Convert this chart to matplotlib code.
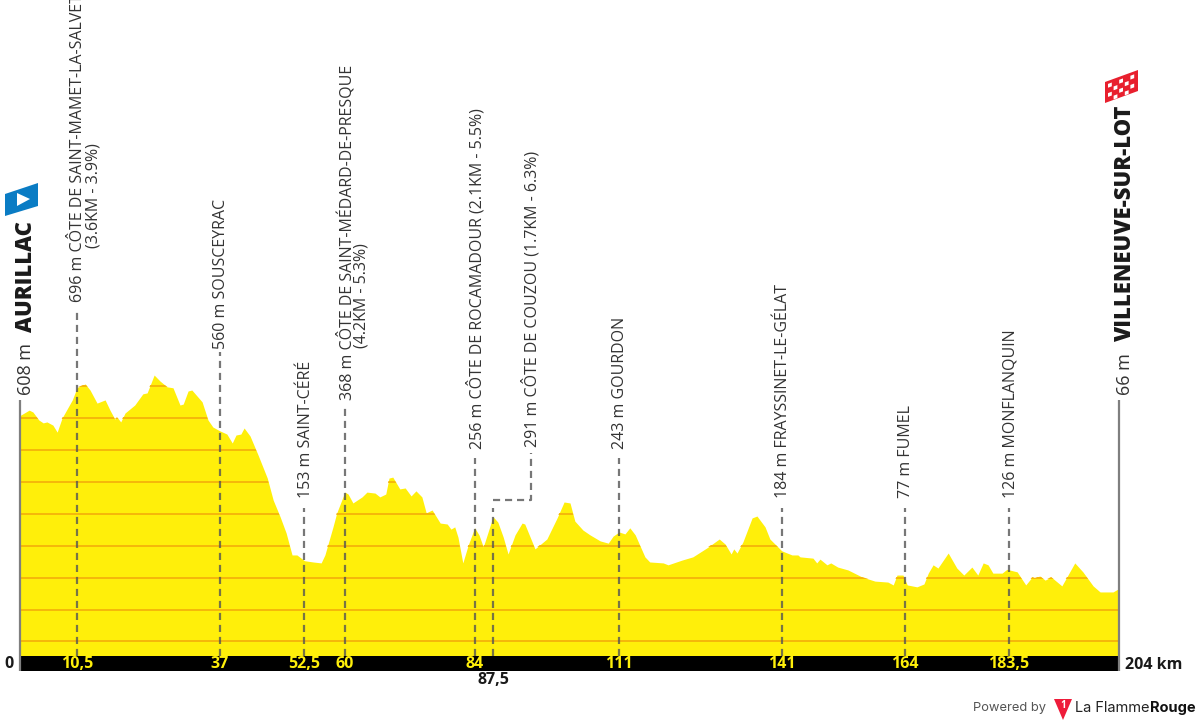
# -*- coding: utf-8 -*-
import matplotlib
matplotlib.use("Agg")
import matplotlib.pyplot as plt
from matplotlib.patches import Polygon

# Profile, km and elevation in metres
km = [0, 1.7, 2.4, 3.5, 4.3, 5.0, 6.1, 6.9, 7.8, 9.7, 10.6, 12.1, 13.0, 14.3, 15.8, 16.7, 17.6, 18.0, 18.7, 19.5,
      21.3, 22.8, 23.6, 24.9, 26.0, 27.3, 28.4, 29.7, 30.3, 31.2, 31.9, 33.8, 34.9, 35.8, 37.1, 38.4, 39.4, 40.1,
      41.0, 41.6, 42.7, 44.2, 45.9, 47.0, 48.3, 49.4, 50.5, 51.4, 52.8, 54.4, 55.9, 56.6, 58.1, 58.8, 60.3, 60.9,
      61.8, 63.5, 64.4, 65.9, 66.8, 67.9, 68.5, 69.2, 70.5, 71.5, 72.6, 73.5, 74.6, 75.4, 76.5, 78.0, 79.3, 80.0,
      80.7, 81.3, 82.2, 83.2, 84.4, 85.2, 86.0, 87.8, 88.7, 89.7, 90.6, 91.9, 93.2, 93.7, 95.6, 97.8, 99.7, 101.0,
      102.1, 103.0, 104.5, 105.8, 107.7, 109.2, 110.1, 111.2, 112.3, 113.2, 114.2, 116.0, 116.9, 119.4, 120.3,
      122.9, 124.9, 127.5, 129.8, 130.9, 132.0, 132.5, 133.1, 134.2, 135.9, 136.8, 138.3, 139.2, 141.4, 143.3,
      144.4, 144.8, 147.2, 147.9, 148.5, 149.8, 150.5, 151.8, 153.7, 156.3, 158.7, 161.1, 162.1, 162.8, 163.9,
      164.7, 166.5, 167.8, 168.6, 169.5, 170.4, 172.3, 173.9, 175.2, 176.7, 177.8, 178.8, 179.7, 180.6, 182.3,
      183.2, 185.1, 186.7, 187.9, 188.4, 189.3, 190.3, 191.4, 193.4, 195.8, 197.3, 199.2, 200.5, 202.9, 204]
elev = [608, 625, 619, 594, 585, 588, 578, 556, 600, 657, 696, 707, 688, 647, 657, 625, 597, 603, 588, 616,
        641, 676, 679, 735, 716, 698, 695, 641, 644, 685, 688, 651, 594, 572, 560, 550, 522, 547,
        550, 569, 544, 484, 412, 343, 290, 240, 171, 171, 153, 149, 146, 171, 259, 303, 368, 362,
        334, 353, 368, 365, 353, 362, 412, 415, 378, 381, 356, 372, 353, 303, 312, 271, 268, 252,
        259, 227, 146, 202, 256, 234, 196, 291, 274, 227, 174, 234, 271, 268, 190, 221, 287, 337,
        334, 277, 249, 234, 215, 208, 230, 243, 237, 256, 234, 165, 149, 146, 140,
        155, 165, 193, 221, 205, 174, 190, 177, 212, 287, 293, 259, 221, 184, 171,
        171, 165, 161, 146, 158, 140, 146, 133, 124, 102, 89, 86, 77, 108, 108,
        77, 71, 80, 114, 140, 130, 177, 130, 108, 133, 108, 146, 140, 114, 114,
        126, 118, 77, 102, 99, 105, 92, 102, 74, 146, 118, 74, 55, 55, 66]

# Climbs and towns
point_km = [10.6, 37.1, 52.8, 60.3, 84.4, 87.8, 111.2, 141.4, 164.3, 183.6]
point_ticks = ["10,5", "37", "52,5", "60", "84", "87,5", "111", "141", "164", "183,5"]
point_names = ["696 m CÔTE DE SAINT-MAMET-LA-SALVETAT", "560 m SOUSCEYRAC", "153 m SAINT-CÉRÉ",
               "368 m CÔTE DE SAINT-MÉDARD-DE-PRESQUE", "256 m CÔTE DE ROCAMADOUR (2.1KM - 5.5%)",
               "291 m CÔTE DE COUZOU (1.7KM - 6.3%)", "243 m GOURDON", "184 m FRAYSSINET-LE-GÉLAT",
               "77 m FUMEL", "126 m MONFLANQUIN"]
grid_levels = [-100, 0, 100, 200, 300, 400, 500, 600, 700]

YELLOW = "#FFEF0A"
ORANGE = "#F5B70A"
GRAY = "#7F7F7F"
TEXT = "#333333"
FONT = "Open Sans"

PX_PER_KM = 5.387
PX_PER_M = 0.319


def x_km(px):
    return (px - 20) / PX_PER_KM


def y_m(py):
    return (609.5 - py) / PX_PER_M


fig = plt.figure(figsize=(12, 7.25), dpi=100)
ax = fig.add_axes([0, 0, 1, 1])
ax.set_xlim(x_km(0), x_km(1200))
ax.set_ylim(y_m(725), y_m(0))
ax.axis("off")

base = y_m(656)
band = y_m(671)

# Profile and contour lines
poly = ax.fill_between(km, elev, base, color=YELLOW, lw=0, zorder=1)
for level in grid_levels:
    ln, = ax.plot([0, 204], [level, level], color=ORANGE, lw=1.4, zorder=2, solid_capstyle="butt")
    ln.set_clip_path(poly.get_paths()[0], poly.get_transform())

ax.fill_between([0, 204], band, base, color="black", lw=0, zorder=3)
for x in (0, 204):
    ax.plot([x, x], [band, y_m(400)], color=GRAY, lw=1.6, zorder=4, solid_capstyle="butt")

# Dashed markers and labels
line_tops = [309, 352, 508, 408, 458, 508, 458, 508, 508, 508]
label_bottoms = [302, 349, 498, 400, 449, 447, 449, 498, 498, 498]
for i, x in enumerate(point_km):
    if i == 5:
        # Couzou has an elbow so its label clears Rocamadour
        ax.plot([x, x], [base, y_m(508)], color="#555555", alpha=0.8, lw=1.6, ls=(0, (3.2, 2.2)), zorder=4)
        ax.plot([x, x_km(531), x_km(531)], [y_m(500), y_m(500), y_m(453)], color="#555555", alpha=0.8,
                lw=1.6, ls=(0, (3.2, 2.2)), zorder=4)
        tx = x_km(531)
    else:
        ax.plot([x, x], [base, y_m(line_tops[i])], color="#555555", alpha=0.8, lw=1.6, ls=(0, (3.2, 2.2)), zorder=4)
        tx = x + 0.25
    ax.text(tx, y_m(label_bottoms[i]), point_names[i], rotation=90, ha="center", va="bottom", color=TEXT,
            family=FONT, fontsize=11.5, zorder=5, clip_on=True)
    if i == 5:
        ax.text(x, y_m(680), point_ticks[i], ha="center", va="center", color="#1a1a1a", family=FONT,
                fontsize=11.5, fontweight="bold")
    else:
        ax.text(x, y_m(664), point_ticks[i], ha="center", va="center", color=YELLOW, family=FONT,
                fontsize=11.5, fontweight="bold", zorder=5)

ax.text(x_km(94), y_m(248), "(3.6KM - 3.9%)", rotation=90, ha="center", va="bottom", color=TEXT, family=FONT, fontsize=11.5)
ax.text(x_km(361), y_m(348), "(4.2KM - 5.3%)", rotation=90, ha="center", va="bottom", color=TEXT, family=FONT, fontsize=11.5)

# Start and finish
ax.text(x_km(26), y_m(395), "608 m", rotation=90, ha="center", va="bottom", color=TEXT, family=FONT, fontsize=13)
ax.text(x_km(26), y_m(332), "AURILLAC", rotation=90, ha="center", va="bottom", color="#1a1a1a", family=FONT,
        fontsize=15.8, fontweight="extra bold")
ax.text(x_km(1125), y_m(395), "66 m", rotation=90, ha="center", va="bottom", color=TEXT, family=FONT, fontsize=13)
ax.text(x_km(1125), y_m(341), "VILLENEUVE-SUR-LOT", rotation=90, ha="center", va="bottom", color="#1a1a1a",
        family=FONT, fontsize=15.8, fontweight="extra bold")

ax.text(x_km(9), y_m(664), "0", ha="center", va="center", color="#1a1a1a", family=FONT, fontsize=11.5, fontweight="bold")
ax.text(x_km(1125), y_m(665), "204 km", ha="left", va="center", color="#1a1a1a", family=FONT, fontsize=11.5, fontweight="bold")


def px_poly(points, color, z=6):
    ax.add_patch(Polygon([(x_km(a), y_m(b)) for a, b in points], closed=True, fc=color, ec="none", zorder=z))


# Blue start flag
px_poly([(5, 194), (38, 183), (38, 206), (5, 216)], "#0A7CC4")
px_poly([(17, 193), (30, 199), (17, 206)], "white", 7)

# Red checkered finish flag
px_poly([(1105, 82), (1138, 70), (1138, 91), (1105, 103)], "#E8202E")
for col in range(5):
    for row in range(4):
        if (col + row) % 2 == 0:
            cx = 1108 + col * 5.6
            cy = 85 + row * 4.6 - (cx - 1105) * 0.364
            px_poly([(cx, cy), (cx + 3.8, cy - 1.4), (cx + 3.8, cy + 2.4), (cx, cy + 3.8)], "white", 7)

# Footer logo
ax.text(x_km(973), y_m(708), "Powered by", ha="left", va="center", color="#555555", family="Inter", fontsize=9.3)
px_poly([(1054, 699), (1072, 699), (1063, 720)], "#EE1C3A")
ax.text(x_km(1063), y_m(706), "1", ha="center", va="center", color="white", family=FONT, fontsize=7, fontweight="bold", zorder=7)
ax.text(x_km(1075), y_m(708), "La Flamme", ha="left", va="center", color="#222222", family="Inter", fontsize=10.5)
ax.text(x_km(1150), y_m(708), "Rouge", ha="left", va="center", color="#111111", family="Inter", fontsize=10.5, fontweight="bold")

fig.savefig("out.png", dpi=100)
